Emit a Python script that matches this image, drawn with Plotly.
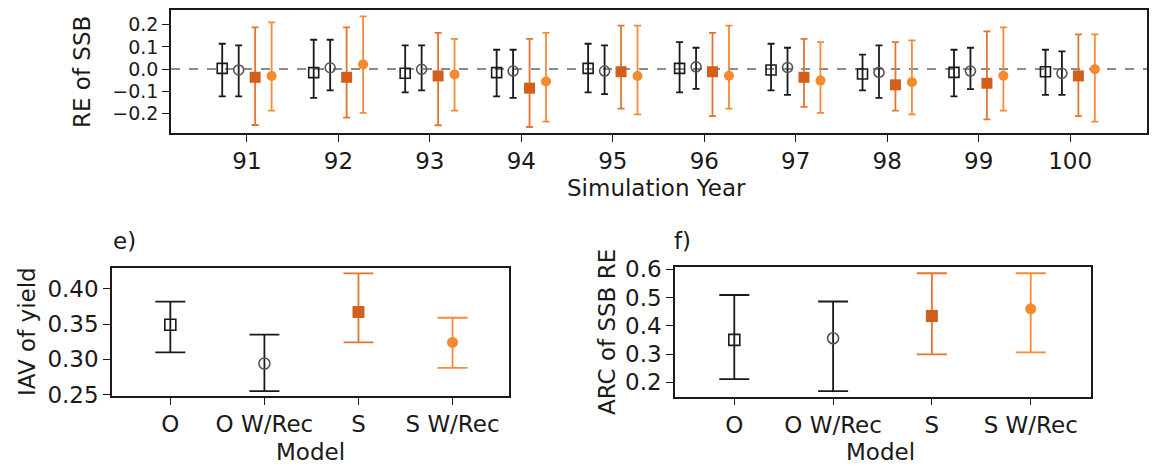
import plotly.graph_objects as go

# ---------------- data ----------------
years = [91, 92, 93, 94, 95, 96, 97, 98, 99, 100]

# Top panel: RE of SSB (point, upper, lower) per model
o_pt = [0.003, -0.016, -0.019, -0.016, 0.003, 0.003, -0.004, -0.022, -0.015, -0.012]
o_hi = [0.114, 0.132, 0.107, 0.087, 0.114, 0.121, 0.114, 0.065, 0.087, 0.087]
o_lo = [-0.123, -0.130, -0.105, -0.123, -0.105, -0.105, -0.096, -0.096, -0.123, -0.116]

ow_pt = [-0.004, 0.006, -0.001, -0.009, -0.009, 0.010, 0.007, -0.015, -0.009, -0.019]
ow_hi = [0.107, 0.132, 0.107, 0.087, 0.107, 0.096, 0.096, 0.107, 0.096, 0.080]
ow_lo = [-0.123, -0.096, -0.096, -0.130, -0.113, -0.089, -0.116, -0.130, -0.090, -0.116]

s_pt = [-0.037, -0.037, -0.031, -0.086, -0.012, -0.012, -0.037, -0.071, -0.064, -0.031]
s_hi = [0.188, 0.188, 0.163, 0.136, 0.196, 0.163, 0.136, 0.121, 0.170, 0.156]
s_lo = [-0.252, -0.219, -0.253, -0.261, -0.178, -0.212, -0.170, -0.187, -0.227, -0.212]

sw_pt = [-0.031, 0.021, -0.024, -0.056, -0.031, -0.030, -0.052, -0.059, -0.030, -0.001]
sw_hi = [0.210, 0.237, 0.136, 0.163, 0.196, 0.196, 0.121, 0.129, 0.188, 0.156]
sw_lo = [-0.187, -0.197, -0.187, -0.237, -0.204, -0.178, -0.197, -0.204, -0.187, -0.237]

# Bottom panels
models = ["O", "O W/Rec", "S", "S W/Rec"]
iav_pt = [0.349, 0.294, 0.367, 0.324]
iav_hi = [0.382, 0.335, 0.422, 0.359]
iav_lo = [0.310, 0.255, 0.324, 0.288]

arc_pt = [0.350, 0.356, 0.435, 0.460]
arc_hi = [0.509, 0.486, 0.586, 0.586]
arc_lo = [0.211, 0.169, 0.299, 0.306]

# ---------------- styles ----------------
W, H = 1166, 469
FONT = "DejaVu Sans, Liberation Sans, Arial, sans-serif"
FS = 23
BLACK = "#1a1a1a"
GRAY = "#555555"
ORG_SQ = "#D2601C"
ORG_SQ_BAR = "#E27630"
ORG_CI = "#F5892E"
ORG_CI_BAR = "#F58A38"

offsets = [-0.27, -0.09, 0.09, 0.27]

series = [
    (o_pt, o_hi, o_lo, dict(symbol="square-open", size=10, color=BLACK, line=dict(width=1.6, color=BLACK)), BLACK),
    (ow_pt, ow_hi, ow_lo, dict(symbol="circle-open", size=10, color=GRAY, line=dict(width=1.6, color=GRAY)), BLACK),
    (s_pt, s_hi, s_lo, dict(symbol="square", size=11, color=ORG_SQ), ORG_SQ_BAR),
    (sw_pt, sw_hi, sw_lo, dict(symbol="circle", size=10, color=ORG_CI), ORG_CI_BAR),
]

fig = go.Figure()

def px2x(px):
    return px / W

def px2y(py):
    return 1 - py / H

# top panel traces
for k, (pt, hi, lo, mk, barc) in enumerate(series):
    xs = [y + offsets[k] for y in years]
    fig.add_trace(go.Scatter(
        x=xs, y=pt, mode="markers", marker=mk,
        error_y=dict(type="data", symmetric=False,
                     array=[h - p for h, p in zip(hi, pt)],
                     arrayminus=[p - l for p, l in zip(pt, lo)],
                     color=barc, thickness=1.8, width=3.5),
        xaxis="x", yaxis="y", showlegend=False,
    ))

# bottom panels
bstyles = [
    (dict(symbol="square-open", size=11, color=BLACK, line=dict(width=1.6, color=BLACK)), BLACK),
    (dict(symbol="circle-open", size=11, color=GRAY, line=dict(width=1.6, color=GRAY)), BLACK),
    (dict(symbol="square", size=12, color=ORG_SQ), ORG_SQ_BAR),
    (dict(symbol="circle", size=11, color=ORG_CI), ORG_CI_BAR),
]
for (pt, hi, lo, xa, ya) in [(iav_pt, iav_hi, iav_lo, "x2", "y2"), (arc_pt, arc_hi, arc_lo, "x3", "y3")]:
    for i in range(len(models)):
        mk, barc = bstyles[i]
        fig.add_trace(go.Scatter(
            x=[i + 1], y=[pt[i]], mode="markers", marker=mk,
            error_y=dict(type="data", symmetric=False,
                         array=[hi[i] - pt[i]], arrayminus=[pt[i] - lo[i]],
                         color=barc, thickness=1.8, width=15),
            xaxis=xa, yaxis=ya, showlegend=False,
        ))

def axis_common(fs=FS):
    return dict(showline=True, linecolor=BLACK, linewidth=1.5, mirror=True,
                ticks="outside", ticklen=7, tickwidth=1.3, tickcolor=BLACK,
                showgrid=False, zeroline=False, automargin=False,
                tickfont=dict(family=FONT, size=fs, color=BLACK))

fig.update_layout(
    template="none",
    width=W, height=H,
    margin=dict(l=0, r=0, t=0, b=0, pad=0),
    paper_bgcolor="white", plot_bgcolor="white",
    font=dict(family=FONT, size=FS, color=BLACK),
    xaxis=dict(domain=[px2x(171), px2x(1147)], range=[90.17, 100.84],
               tickvals=years, ticktext=[str(y) for y in years], **axis_common()),
    yaxis=dict(domain=[px2y(133), px2y(10)], range=[-0.288, 0.266],
               tickvals=[-0.2, -0.1, 0.0, 0.1, 0.2], tickformat=".1f", **axis_common(19)),
    xaxis2=dict(domain=[px2x(112), px2x(509)], range=[0.38, 4.6],
                tickvals=[1, 2, 3, 4], ticktext=models, anchor="y2", **axis_common()),
    yaxis2=dict(domain=[px2y(396), px2y(267.7)], range=[0.248, 0.430],
                tickvals=[0.25, 0.30, 0.35, 0.40], tickformat=".2f", anchor="x2", **axis_common()),
    xaxis3=dict(domain=[px2x(675), px2x(1090.7)], range=[0.40, 4.607],
                tickvals=[1, 2, 3, 4], ticktext=models, anchor="y3", **axis_common()),
    yaxis3=dict(domain=[px2y(396.7), px2y(267.3)], range=[0.149, 0.607],
                tickvals=[0.2, 0.3, 0.4, 0.5, 0.6], tickformat=".1f", anchor="x3", **axis_common()),
)

# dashed zero line in top panel
fig.add_shape(type="line", xref="x domain", yref="y", x0=0, x1=1, y0=0, y1=0,
              line=dict(color="#666666", width=1.5, dash="dash"), layer="below")

def ann(text, x, y, angle=0, size=FS):
    fig.add_annotation(text=text, x=px2x(x), y=px2y(y), xref="paper", yref="paper",
                       showarrow=False, textangle=angle,
                       font=dict(family=FONT, size=size, color=BLACK),
                       xanchor="center", yanchor="middle")

ann("RE of SSB", 82, 72, angle=-90)
ann("Simulation Year", 656, 188)
ann("IAV of yield", 27, 332, angle=-90)
ann("ARC of SSB RE", 607, 332, angle=-90)
ann("Model", 310, 452)
ann("Model", 880, 452)
ann("e)", 124, 241)
ann("f)", 682, 241)

fig.write_html("out.html")
